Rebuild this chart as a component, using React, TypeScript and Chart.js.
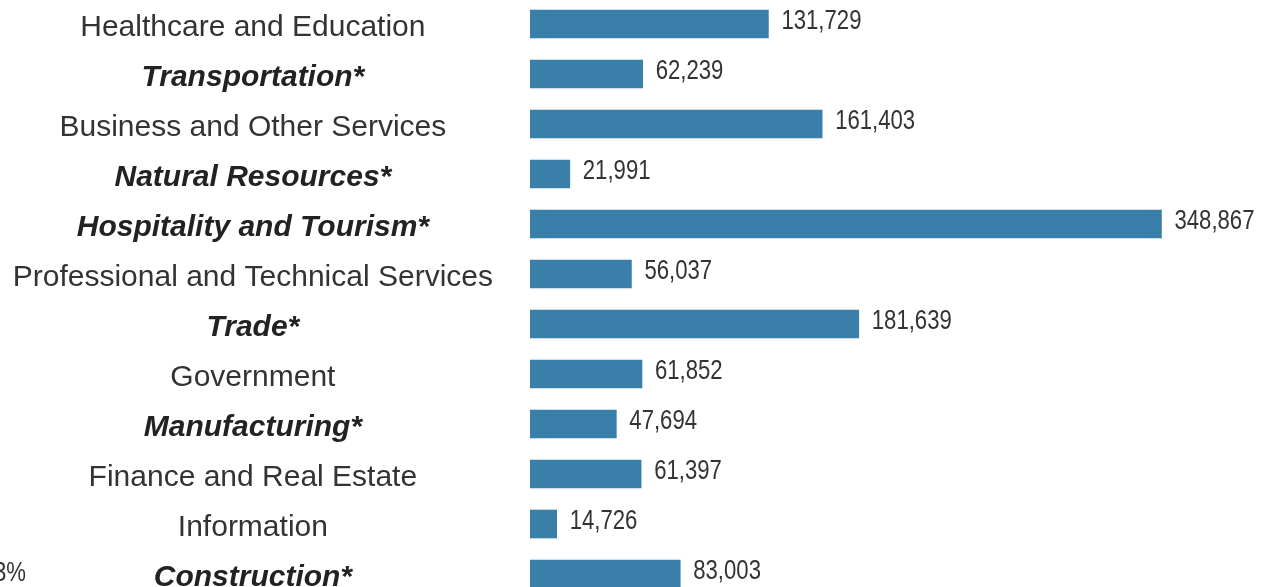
import React, { useEffect, useRef } from "react";
import { Chart, registerables } from "chart.js";

Chart.register(...registerables);

const categories = [
  "Healthcare and Education",
  "Transportation*",
  "Business and Other Services",
  "Natural Resources*",
  "Hospitality and Tourism*",
  "Professional and Technical Services",
  "Trade*",
  "Government",
  "Manufacturing*",
  "Finance and Real Estate",
  "Information",
  "Construction*",
];

const employment = [
  131729, 62239, 161403, 21991, 348867, 56037, 181639, 61852, 47694, 61397,
  14726, 83003,
];

const emphasized = [
  false, true, false, true, true, false, true, false, true, false, false, true,
];

const cutOffNote = "3%";

const BAR_COLOR = "#3a7eaa";
const TEXT_COLOR = "#333333";

const valueLabelPlugin = {
  id: "valueLabels",
  afterDatasetsDraw(chart: any) {
    const ctx = chart.ctx;
    const meta = chart.getDatasetMeta(0);
    ctx.save();
    ctx.fillStyle = TEXT_COLOR;
    ctx.font = "27px 'Liberation Sans', Arial, sans-serif";
    ctx.textBaseline = "middle";
    ctx.textAlign = "left";
    meta.data.forEach((bar: any, i: number) => {
      const txt = employment[i].toLocaleString("en-US");
      ctx.save();
      ctx.translate(bar.x + 13, bar.y - 2);
      ctx.scale(0.82, 1);
      ctx.fillText(txt, 0, 0);
      ctx.restore();
    });
    const last = meta.data[meta.data.length - 1];
    if (last) {
      ctx.save();
      ctx.translate(26, last.y);
      ctx.scale(0.82, 1);
      ctx.textAlign = "right";
      ctx.fillText(cutOffNote, 0, 0);
      ctx.restore();
    }
    ctx.restore();
  },
};

export default function App() {
  const canvasRef = useRef<HTMLCanvasElement | null>(null);

  useEffect(() => {
    document.body.style.margin = "0";
    const canvas = canvasRef.current;
    if (!canvas) return;
    const chart = new Chart(canvas, {
      type: "bar",
      data: {
        labels: categories,
        datasets: [
          {
            data: employment,
            backgroundColor: BAR_COLOR,
            borderWidth: 0,
            barThickness: 28,
          },
        ],
      },
      options: {
        indexAxis: "y",
        animation: false,
        responsive: true,
        maintainAspectRatio: false,
        layout: { padding: { left: 0, right: 22, top: 0, bottom: 0 } },
        plugins: {
          legend: { display: false },
          tooltip: { enabled: false },
          title: { display: false },
        },
        scales: {
          x: {
            display: false,
            min: 0,
            max: 400000,
          },
          y: {
            offset: true,
            grid: { display: false },
            border: { display: false },
            afterFit: (scale: any) => {
              scale.width = 530;
              scale.paddingTop = 0;
              scale.paddingBottom = 0;
            },
            ticks: {
              crossAlign: "center",
              padding: 29,
              labelOffset: 4,
              autoSkip: false,
              color: (c: any) => (emphasized[c.index] ? "#222222" : TEXT_COLOR),
              font: (c: any) =>
                emphasized[c.index]
                  ? {
                      family: "'Liberation Sans', Arial, sans-serif",
                      size: 30,
                      weight: "bold",
                      style: "italic",
                    }
                  : {
                      family: "'Liberation Sans', Arial, sans-serif",
                      size: 30,
                      weight: "normal",
                      style: "normal",
                    },
            },
          },
        },
      },
      plugins: [valueLabelPlugin],
    });
    return () => chart.destroy();
  }, []);

  return (
    <div
      style={{
        position: "fixed",
        top: 0,
        left: 0,
        width: 1276,
        height: 587,
        overflow: "hidden",
        background: "#ffffff",
      }}
    >
      <div
        style={{
          position: "absolute",
          top: -1,
          left: 0,
          width: 1276,
          height: 600,
        }}
      >
        <canvas ref={canvasRef} />
      </div>
    </div>
  );
}
